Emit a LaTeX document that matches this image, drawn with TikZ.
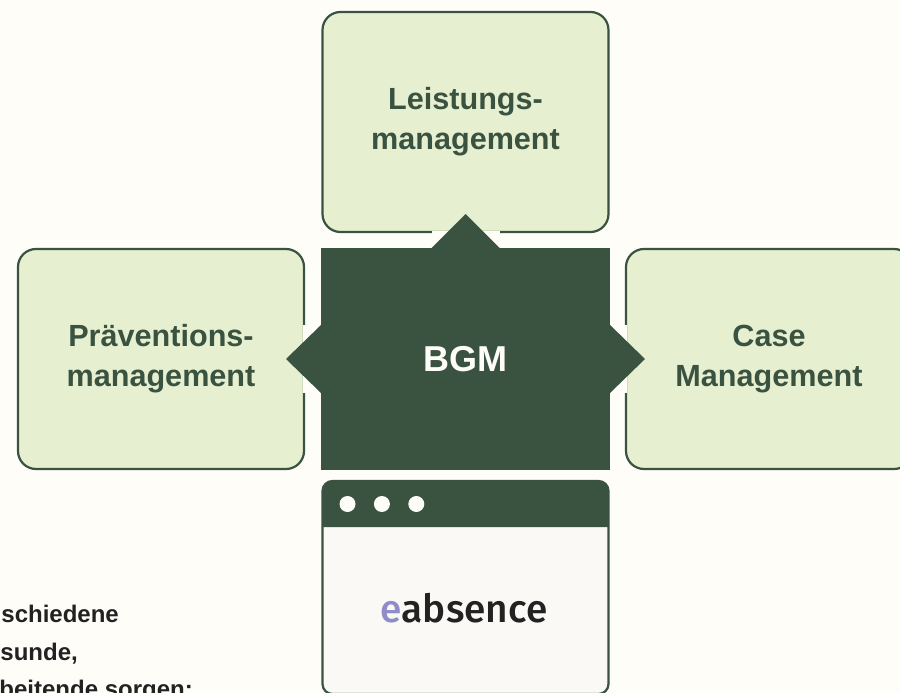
\documentclass[tikz,border=0pt]{standalone}
\usepackage{fontspec}
\setmainfont{Liberation Sans}
\newfontfamily\logofont{Fira Sans Medium}
\usepackage{tikz}
\usetikzlibrary{positioning, calc}
\definecolor{pagecol}{HTML}{FFFDF8}
\definecolor{boxcol}{HTML}{E7EFD1}
\definecolor{darkcol}{HTML}{3A5240}
\definecolor{windowcol}{HTML}{FAF9F5}
\definecolor{inkcol}{HTML}{222222}
\definecolor{logocol}{HTML}{8F8CC8}

\begin{document}
\begin{tikzpicture}[
    x=1pt, y=-1pt,
    area/.style={rectangle, draw=darkcol, fill=boxcol, line width=2.2pt, rounded corners=18pt, minimum width=286pt, minimum height=220pt, align=center, text=darkcol, font=\fontsize{30.6}{40}\selectfont\bfseries, inner sep=0pt, outer sep=0pt},
    core/.style={rectangle, fill=darkcol, minimum width=289pt, minimum height=222pt, inner sep=0pt, outer sep=0pt},
    dot/.style={circle, fill=pagecol, minimum size=16pt, inner sep=0pt},
    remark/.style={anchor=base east, text=inkcol, font=\fontsize{24}{28}\selectfont\bfseries, inner sep=0pt}
]
    \useasboundingbox (0,0) rectangle (900,693);
    \clip (0,0) rectangle (900,693);
    \fill[pagecol] (0,0) rectangle (900,693);

    % Centre
    \node [core] (bgm) at (465.5,359) {};

    % Surrounding areas
    \node [area, above=16pt of bgm] (leistung) {Leistungs-\\management};
    \node [area, left=17pt of bgm] (praevention) {Präventions-\\management};
    \node [area, right=16pt of bgm] (case) {Case\\Management};

    % Gaps in the outlines
    \fill[pagecol] ($(bgm.north)+(-34,-17)$) rectangle ($(bgm.north)+(34,0)$);
    \fill[pagecol] ($(bgm.west)+(-18,-34)$) rectangle ($(bgm.west)+(0,34)$);
    \fill[pagecol] ($(bgm.east)+(0,-34)$) rectangle ($(bgm.east)+(17,34)$);

    % Points of the centre
    \fill[darkcol] ($(bgm.north)+(-34,0)$) -- ($(bgm.north)+(0,-34)$) -- ($(bgm.north)+(34,0)$) -- cycle;
    \fill[darkcol] ($(bgm.west)+(0,-34)$) -- ($(bgm.west)+(-35,0)$) -- ($(bgm.west)+(0,34)$) -- cycle;
    \fill[darkcol] ($(bgm.east)+(0,-34)$) -- ($(bgm.east)+(35,0)$) -- ($(bgm.east)+(0,34)$) -- cycle;
    \node [text=pagecol, font=\fontsize{36}{44}\selectfont\bfseries, inner sep=0pt] (bgmlabel) at (bgm.center) {BGM};

    % Window
    \node [rectangle, draw=darkcol, fill=windowcol, line width=2.2pt, rounded corners=10pt, minimum width=286pt, minimum height=213pt, inner sep=0pt, outer sep=0pt, below=11pt of bgm] (window) {};
    \fill[darkcol] ($(window.north west)+(0,46)$) {[rounded corners=10pt] -- (window.north west) -- (window.north east)} -- ($(window.north east)+(0,46)$) -- cycle;
    \node [dot] (dota) at ($(window.north west)+(25,23)$) {};
    \node [dot, right=18pt of dota] (dotb) {};
    \node [dot, right=18pt of dotb] (dotc) {};
    \node [text=inkcol, font=\fontsize{38.8}{44}\logofont, inner sep=0pt] (logo) at (464,608) {\textcolor{logocol}{e}absence};

    % Cut off text
    \node [remark] (linea) at (119,622) {schiedene};
    \node [remark] (lineb) at (78,660) {sunde,};
    \node [remark] (linec) at (193,697) {beitende sorgen:};
\end{tikzpicture}
\end{document}
